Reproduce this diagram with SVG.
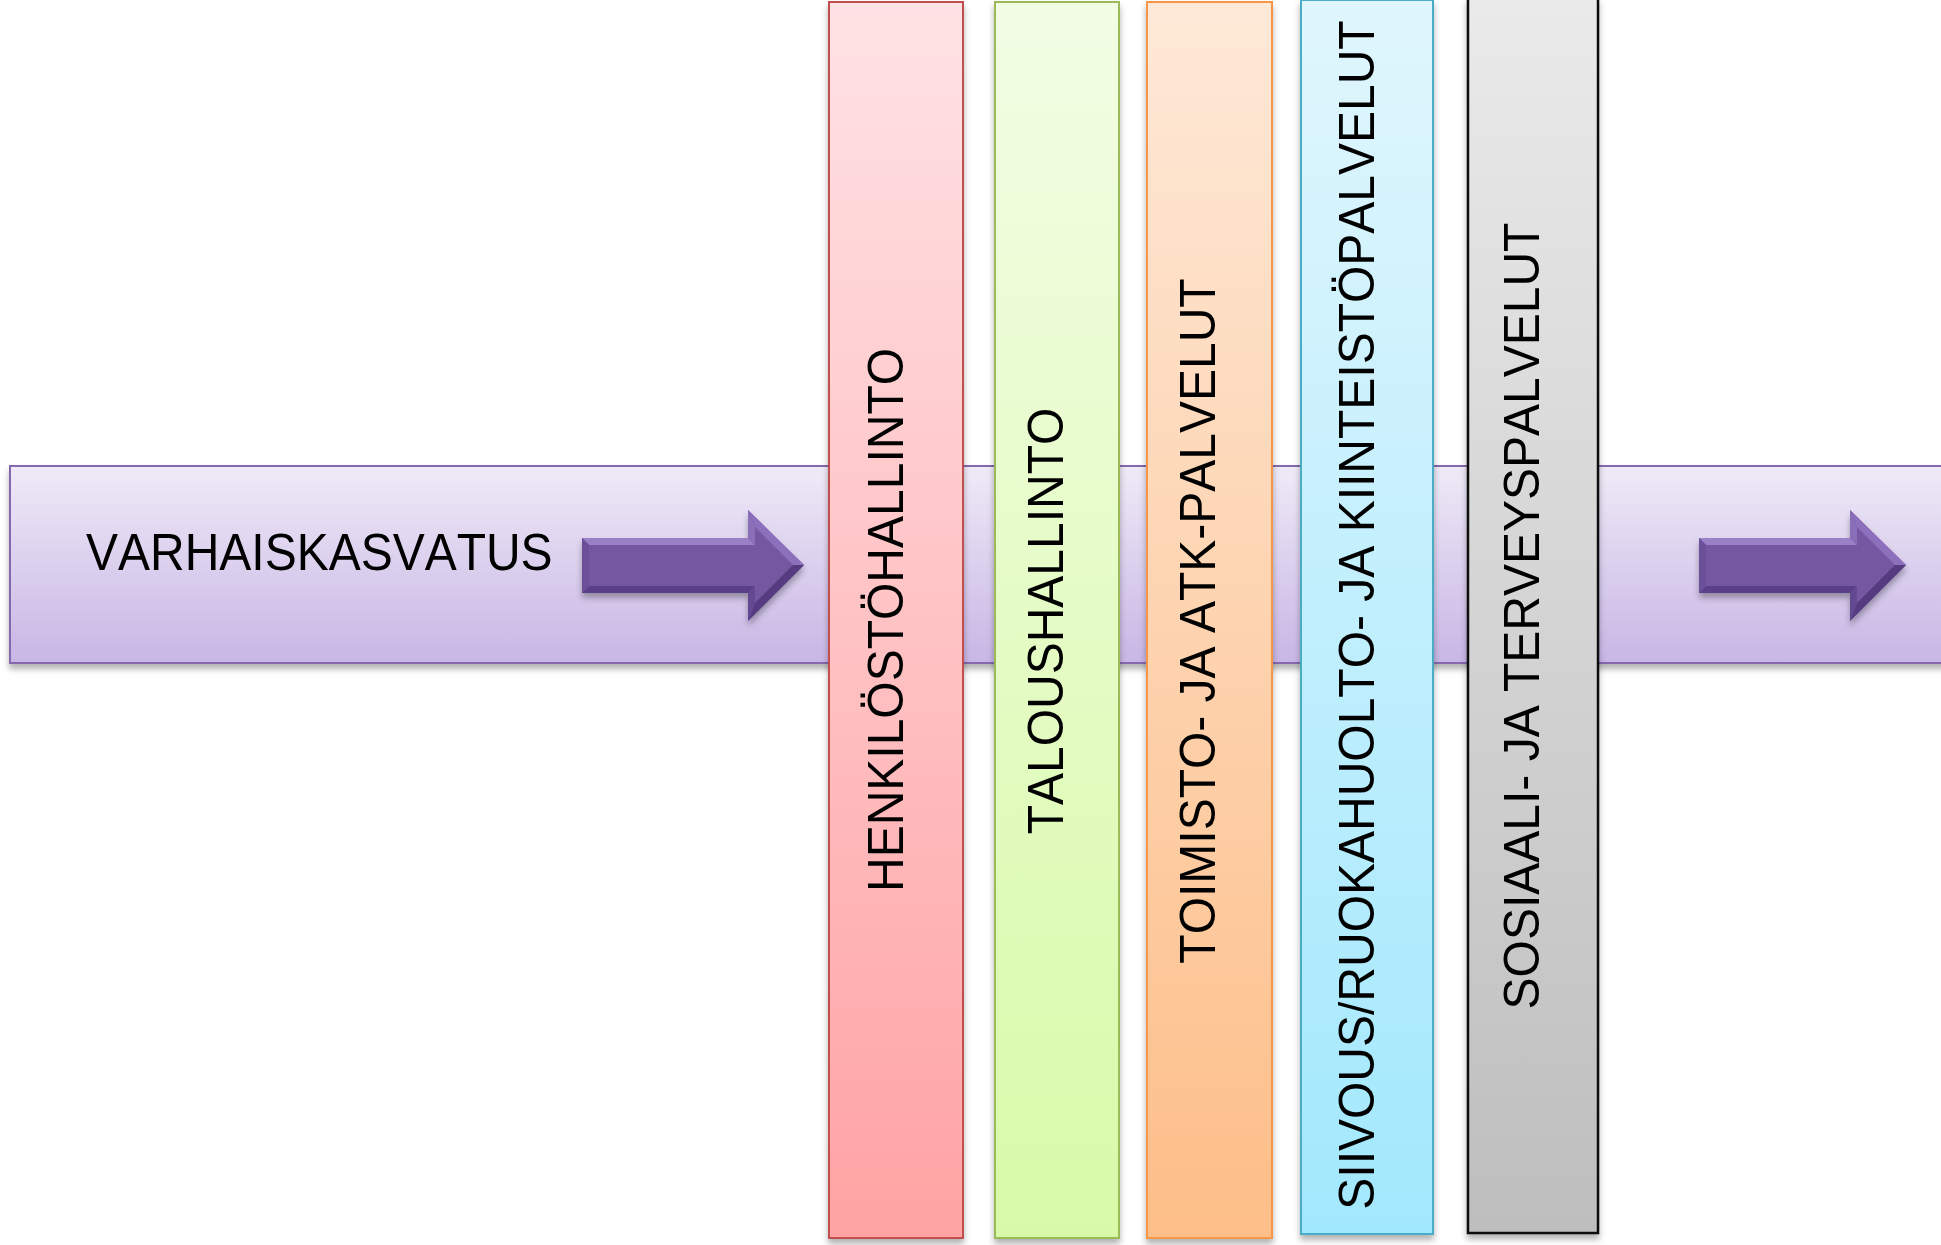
<svg xmlns="http://www.w3.org/2000/svg" width="1941" height="1245" viewBox="0 0 1941 1245">
<defs>
<style>
text{font-family:"Liberation Sans",Arial,sans-serif;font-size:48px;fill:#000;font-kerning:none;font-feature-settings:"kern" 0}
.col{stroke-width:2}
</style>
<filter id="sh" x="-10%" y="-10%" width="120%" height="120%">
<feDropShadow dx="0" dy="5" stdDeviation="3" flood-color="#000" flood-opacity="0.3"/>
</filter>
<linearGradient id="gBand" x1="0" y1="0" x2="0" y2="1"><stop offset="0" stop-color="#EFEAF7"/><stop offset="1" stop-color="#C8B6E5"/></linearGradient>
<linearGradient id="g1" x1="0" y1="0" x2="0" y2="1"><stop offset="0" stop-color="#FFE2E5"/><stop offset="1" stop-color="#FFA3A4"/></linearGradient>
<linearGradient id="g2" x1="0" y1="0" x2="0" y2="1"><stop offset="0" stop-color="#F2FDE4"/><stop offset="1" stop-color="#D8FAA8"/></linearGradient>
<linearGradient id="g3" x1="0" y1="0" x2="0" y2="1"><stop offset="0" stop-color="#FEE9D8"/><stop offset="1" stop-color="#FDBE88"/></linearGradient>
<linearGradient id="g4" x1="0" y1="0" x2="0" y2="1"><stop offset="0" stop-color="#E0F6FD"/><stop offset="1" stop-color="#A2E8FD"/></linearGradient>
<linearGradient id="g5" x1="0" y1="0" x2="0" y2="1"><stop offset="0" stop-color="#EAEAEA"/><stop offset="1" stop-color="#BEBEBE"/></linearGradient>
</defs>
<rect width="1941" height="1245" fill="#fff"/>

<g id="band">
<rect x="10" y="466" width="1940" height="197" fill="url(#gBand)" stroke="#8767AE" stroke-width="2" filter="url(#sh)"/>
<text transform="translate(86,570) scale(1,1.08)">VARHAISKASVATUS</text>
</g>

<g id="connectors">
<g id="arrow1" filter="url(#sh)">
<polygon points="582,538 748,538 748,510 804,565 748,621 748,593 582,593" fill="#7456A1"/>
<polygon points="582,538 748,538 755,545 589,545" fill="#9A80C6"/>
<polygon points="748,538 748,510 755,527 755,545" fill="#8A6EB8"/>
<polygon points="748,510 804,565 793,565 755,527" fill="#8C70BB"/>
<polygon points="804,565 748,621 755,603 793,565" fill="#563B80"/>
<polygon points="748,621 748,593 755,586 755,603" fill="#634891"/>
<polygon points="748,593 582,593 589,586 755,586" fill="#5A3F86"/>
<polygon points="582,593 582,538 589,545 589,586" fill="#6C4F99"/>
</g>
<g id="arrow2" filter="url(#sh)">
<polygon points="1699,538 1850,538 1850,510 1906,565 1850,621 1850,593 1699,593" fill="#7456A1"/>
<polygon points="1699,538 1850,538 1857,545 1706,545" fill="#9A80C6"/>
<polygon points="1850,538 1850,510 1857,527 1857,545" fill="#8A6EB8"/>
<polygon points="1850,510 1906,565 1895,565 1857,527" fill="#8C70BB"/>
<polygon points="1906,565 1850,621 1857,603 1895,565" fill="#563B80"/>
<polygon points="1850,621 1850,593 1857,586 1857,603" fill="#634891"/>
<polygon points="1850,593 1699,593 1706,586 1857,586" fill="#5A3F86"/>
<polygon points="1699,593 1699,538 1706,545 1706,586" fill="#6C4F99"/>
</g>
</g>

<g id="col1">
<rect class="col" x="829" y="2" width="134" height="1236" fill="url(#g1)" stroke="#C0504D" filter="url(#sh)"/>
<text transform="translate(903,620) rotate(-90) scale(1,1.06)" text-anchor="middle">HENKILÖSTÖHALLINTO</text>
</g>
<g id="col2">
<rect class="col" x="995" y="2" width="124" height="1236" fill="url(#g2)" stroke="#9BBB59" filter="url(#sh)"/>
<text transform="translate(1063,621) rotate(-90) scale(1,1.06)" text-anchor="middle">TALOUSHALLINTO</text>
</g>
<g id="col3">
<rect class="col" x="1147" y="2" width="125" height="1236" fill="url(#g3)" stroke="#F79646" filter="url(#sh)"/>
<text transform="translate(1215,621) rotate(-90) scale(1,1.06)" text-anchor="middle">TOIMISTO- JA ATK-PALVELUT</text>
</g>
<g id="col4">
<rect class="col" x="1301" y="0" width="132" height="1234" fill="url(#g4)" stroke="#4BACC6" filter="url(#sh)"/>
<text transform="translate(1374,615) rotate(-90) scale(1,1.06)" text-anchor="middle">SIIVOUS/RUOKAHUOLTO- JA KIINTEISTÖPALVELUT</text>
</g>
<g id="col5">
<rect x="1468" y="-2" width="130" height="1235" fill="url(#g5)" stroke="#111" stroke-width="2.5" filter="url(#sh)"/>
<text transform="translate(1539,616) rotate(-90) scale(1,1.06)" text-anchor="middle">SOSIAALI- JA TERVEYSPALVELUT</text>
</g>
</svg>
